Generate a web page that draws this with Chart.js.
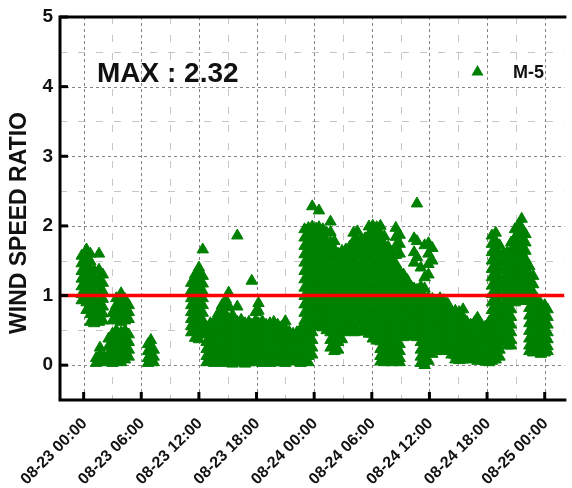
<!DOCTYPE html>
<html>
<head>
<meta charset="utf-8">
<script src="https://cdn.jsdelivr.net/npm/chart.js@4.4.1/dist/chart.umd.min.js"></script>
<style>
  html, body { margin: 0; padding: 0; background: #fff; }
  #wrap { width: 572px; height: 488px; }
</style>
</head>
<body>
<div id="wrap"><canvas id="ratio-chart" width="572" height="488"></canvas></div>
<script>
// Axis ticks (hours from 08-23 00:00)
const xTickHours = [0, 6, 12, 18, 24, 30, 36, 42, 48];
const xTickLabels = ['08-23 00:00', '08-23 06:00', '08-23 12:00', '08-23 18:00',
  '08-24 00:00', '08-24 06:00', '08-24 12:00', '08-24 18:00', '08-25 00:00'];
const yTicks = [0, 1, 2, 3, 4, 5];
const yMinorTicks = [0.5, 1.5, 2.5, 3.5, 4.5];
const xRange = [-2.46, 50.05];
const yRange = [-0.5, 5];

const refRatio = 1;
const maxRatio = 2.32;
const seriesName = 'M-5';

// [hour, ratios recorded around that hour]
const samples23Am = [
  [-0.2, [1.57, 1.46, 1.35, 1.24, 1.13, 1.02, 0.93]],
  [0.3, [1.66, 1.55, 1.44, 1.33, 1.22, 1.11, 1.0, 0.9, 0.79]],
  [0.7, [1.6, 1.49, 1.38, 1.27, 1.16, 1.05, 0.95, 0.84, 0.73, 0.62]],
  [1.1, [1.36, 1.25, 1.14, 1.03, 0.92, 0.81, 0.7, 0.6]],
  [1.3, [0.1, 0.03]],
  [1.6, [1.6, 1.37, 1.26, 1.15, 1.04, 0.93, 0.82, 0.72, 0.62]],
  [1.7, [0.25, 0.15, 0.06]],
  [2.0, [1.3, 1.18, 1.06, 0.95, 0.84, 0.74, 0.64]],
  [2.1, [0.12, 0.04]],
  [2.6, [0.38, 0.27, 0.16, 0.06]],
  [3.0, [0.75, 0.64, 0.45, 0.34, 0.23, 0.12, 0.03]],
  [3.4, [0.96, 0.86, 0.76, 0.66, 0.5, 0.39, 0.28, 0.17, 0.06]],
  [3.9, [1.03, 0.93, 0.83, 0.72, 0.62, 0.47, 0.36, 0.25, 0.14, 0.04]],
  [4.3, [0.95, 0.85, 0.75, 0.64, 0.5, 0.4, 0.29, 0.18, 0.08]],
  [4.7, [0.86, 0.76, 0.66, 0.44, 0.33, 0.22, 0.12]],
  [6.7, [0.3, 0.2, 0.1, 0.03]],
  [7.0, [0.36, 0.26, 0.16, 0.06]],
  [7.3, [0.22, 0.12, 0.04]]
];

const samples23Pm = [
  [11.2, [1.18, 1.07, 0.96, 0.86, 0.76, 0.66, 0.56, 0.47]],
  [11.6, [1.3, 1.19, 1.08, 0.98, 0.88, 0.78, 0.68, 0.58, 0.48, 0.39]],
  [12.0, [1.4, 1.29, 1.18, 1.07, 0.97, 0.87, 0.77, 0.67, 0.57, 0.46, 0.37]],
  [12.4, [1.66, 1.28, 1.17, 1.06, 0.96, 0.86, 0.75, 0.64, 0.54, 0.44]],
  [12.8, [0.55, 0.44, 0.33, 0.23, 0.13, 0.04]],
  [13.2, [0.6, 0.49, 0.38, 0.28, 0.17, 0.07]],
  [13.6, [0.62, 0.52, 0.41, 0.3, 0.2, 0.1, 0.03]],
  [14.0, [0.74, 0.63, 0.52, 0.42, 0.31, 0.21, 0.11, 0.04]],
  [14.4, [0.86, 0.75, 0.64, 0.54, 0.43, 0.33, 0.22, 0.12, 0.05]],
  [14.8, [0.94, 0.83, 0.72, 0.61, 0.5, 0.4, 0.29, 0.19, 0.09, 0.03]],
  [15.1, [1.04, 0.85, 0.66, 0.56, 0.45, 0.35, 0.24, 0.14, 0.05]],
  [15.5, [0.72, 0.61, 0.5, 0.4, 0.3, 0.2, 0.1, 0.02]],
  [16.0, [1.86, 0.84, 0.62, 0.52, 0.41, 0.31, 0.21, 0.11, 0.04]],
  [16.4, [0.65, 0.55, 0.44, 0.34, 0.23, 0.13, 0.05]],
  [16.8, [0.6, 0.5, 0.39, 0.29, 0.19, 0.09, 0.02]],
  [17.2, [0.62, 0.52, 0.42, 0.31, 0.21, 0.11, 0.04]],
  [17.5, [1.21, 0.58, 0.47, 0.36, 0.26, 0.16, 0.06]],
  [17.9, [0.76, 0.64, 0.53, 0.43, 0.32, 0.22, 0.12, 0.04]],
  [18.2, [0.89, 0.78, 0.6, 0.49, 0.38, 0.28, 0.18, 0.08]],
  [18.6, [0.63, 0.53, 0.42, 0.32, 0.21, 0.11, 0.03]],
  [19.0, [0.58, 0.48, 0.37, 0.27, 0.16, 0.06]],
  [19.4, [0.6, 0.5, 0.4, 0.29, 0.19, 0.09, 0.03]],
  [19.8, [0.62, 0.52, 0.41, 0.31, 0.2, 0.1, 0.04]],
  [20.2, [0.58, 0.47, 0.37, 0.26, 0.16, 0.06]],
  [20.6, [0.55, 0.45, 0.34, 0.24, 0.13, 0.04]],
  [21.0, [0.63, 0.52, 0.41, 0.31, 0.2, 0.1, 0.03]],
  [21.4, [0.48, 0.38, 0.27, 0.17, 0.07]],
  [21.8, [0.45, 0.35, 0.24, 0.14, 0.05]],
  [22.2, [0.47, 0.36, 0.26, 0.15, 0.06]],
  [22.6, [0.52, 0.41, 0.31, 0.2, 0.1, 0.03]],
  [23.0, [1.95, 1.83, 1.71, 1.59, 1.47, 1.35, 1.23, 1.11, 0.99, 0.87, 0.75, 0.64, 0.53, 0.42, 0.31, 0.2, 0.1]],
  [23.4, [1.97, 1.85, 1.73, 1.61, 1.49, 1.37, 1.25, 1.13, 1.01, 0.9, 0.78, 0.67, 0.56, 0.45, 0.34, 0.23, 0.13, 0.04]],
  [23.8, [2.28, 1.99, 1.87, 1.75, 1.63, 1.51, 1.39, 1.27, 1.15, 1.03, 0.91, 0.8, 0.69, 0.58, 0.47, 0.36, 0.25, 0.15]]
];

const samples24Am = [
  [24.2, [1.96, 1.84, 1.72, 1.6, 1.48, 1.36, 1.24, 1.12, 1.0, 0.88, 0.77, 0.66, 0.55]],
  [24.5, [2.22, 1.98, 1.86, 1.74, 1.62, 1.5, 1.38, 1.26, 1.14, 1.02, 0.9, 0.79, 0.68, 0.57]],
  [24.9, [1.95, 1.83, 1.71, 1.59, 1.47, 1.35, 1.23, 1.11, 0.99, 0.87, 0.76, 0.65, 0.54]],
  [25.3, [1.9, 1.78, 1.66, 1.54, 1.42, 1.3, 1.18, 1.06, 0.94, 0.82, 0.71, 0.6, 0.5]],
  [25.7, [2.06, 1.91, 1.76, 1.64, 1.52, 1.4, 1.28, 1.16, 1.04, 0.92, 0.8, 0.69, 0.58, 0.47, 0.36, 0.25]],
  [26.1, [1.78, 1.66, 1.54, 1.42, 1.3, 1.18, 1.06, 0.94, 0.82, 0.7, 0.59, 0.48, 0.37, 0.26, 0.2]],
  [26.5, [1.6, 1.48, 1.36, 1.24, 1.12, 1.0, 0.88, 0.77, 0.66, 0.55, 0.44, 0.33, 0.22]],
  [26.9, [1.64, 1.52, 1.4, 1.28, 1.16, 1.04, 0.92, 0.8, 0.69, 0.58, 0.47, 0.37]],
  [27.3, [1.66, 1.54, 1.42, 1.3, 1.18, 1.06, 0.94, 0.82, 0.7, 0.59, 0.48]],
  [27.7, [1.7, 1.58, 1.46, 1.34, 1.22, 1.1, 0.98, 0.86, 0.74, 0.62, 0.5]],
  [28.1, [1.9, 1.78, 1.66, 1.54, 1.42, 1.3, 1.18, 1.06, 0.94, 0.82, 0.7, 0.58, 0.47]],
  [28.5, [1.92, 1.8, 1.68, 1.56, 1.44, 1.32, 1.2, 1.08, 0.96, 0.84, 0.72, 0.6, 0.48]],
  [28.9, [1.8, 1.68, 1.56, 1.44, 1.32, 1.2, 1.08, 0.96, 0.84, 0.72, 0.6, 0.48]],
  [29.3, [1.82, 1.7, 1.58, 1.46, 1.34, 1.22, 1.1, 0.98, 0.86, 0.74, 0.62, 0.5]],
  [29.7, [1.99, 1.87, 1.75, 1.63, 1.51, 1.39, 1.27, 1.15, 1.03, 0.91, 0.79, 0.67, 0.55, 0.45]],
  [30.1, [2.0, 1.88, 1.76, 1.64, 1.52, 1.4, 1.28, 1.16, 1.04, 0.92, 0.8, 0.68, 0.56, 0.45, 0.38]],
  [30.5, [1.98, 1.86, 1.74, 1.62, 1.5, 1.38, 1.26, 1.14, 1.02, 0.9, 0.78, 0.66, 0.55, 0.44, 0.35]],
  [30.9, [2.0, 1.88, 1.76, 1.64, 1.52, 1.4, 1.28, 1.16, 1.04, 0.92, 0.8, 0.68, 0.56, 0.45, 0.34, 0.23, 0.13, 0.05]],
  [31.3, [1.85, 1.73, 1.61, 1.49, 1.37, 1.25, 1.13, 1.01, 0.89, 0.77, 0.65, 0.54, 0.43, 0.32, 0.21, 0.11, 0.04]],
  [31.7, [1.7, 1.58, 1.46, 1.34, 1.22, 1.1, 0.98, 0.86, 0.74, 0.62, 0.51, 0.4, 0.29, 0.18, 0.08]],
  [32.1, [1.62, 1.5, 1.38, 1.26, 1.14, 1.02, 0.9, 0.78, 0.66, 0.55, 0.44, 0.33, 0.22, 0.12, 0.04]],
  [32.5, [1.97, 1.84, 1.71, 1.58, 1.45, 1.33, 1.21, 1.09, 0.97, 0.85, 0.73, 0.62, 0.51, 0.4, 0.29, 0.18, 0.08]],
  [32.9, [1.87, 1.74, 1.6, 1.35, 1.23, 1.11, 0.99, 0.87, 0.75, 0.63, 0.52, 0.41, 0.3, 0.2, 0.1, 0.04]],
  [33.3, [1.3, 1.18, 1.06, 0.94, 0.82, 0.7, 0.59, 0.48, 0.4]],
  [33.7, [1.22, 1.1, 0.98, 0.86, 0.74, 0.63, 0.52, 0.41]],
  [34.1, [1.12, 1.0, 0.88, 0.76, 0.65, 0.54, 0.43]],
  [34.4, [1.82, 1.62, 1.47, 1.1, 0.98, 0.86, 0.75, 0.64, 0.53, 0.42]],
  [34.7, [2.32, 1.78, 1.55, 1.08, 0.96, 0.84, 0.72, 0.61, 0.5, 0.4]],
  [35.1, [1.4, 1.13, 1.02, 0.9, 0.78, 0.66, 0.55, 0.44, 0.33, 0.22, 0.12, 0.03]],
  [35.5, [1.72, 1.26, 1.1, 0.98, 0.86, 0.74, 0.62, 0.5, 0.39, 0.28, 0.17, 0.07, 0.0]],
  [35.9, [1.75, 1.6, 1.45, 1.3, 0.97, 0.86, 0.74, 0.62, 0.5, 0.39, 0.28, 0.17, 0.06]]
];

const samples24Pm = [
  [36.3, [1.68, 1.5, 0.95, 0.84, 0.72, 0.6, 0.48, 0.37, 0.26, 0.16]],
  [36.7, [0.92, 0.8, 0.69, 0.58, 0.47, 0.36, 0.25, 0.2]],
  [37.1, [0.96, 0.84, 0.73, 0.62, 0.51, 0.4, 0.3, 0.21]],
  [37.5, [0.93, 0.82, 0.71, 0.6, 0.49, 0.38, 0.28, 0.2]],
  [37.9, [0.88, 0.77, 0.66, 0.55, 0.44, 0.33, 0.23]],
  [38.3, [0.76, 0.65, 0.54, 0.43, 0.32, 0.22, 0.15]],
  [38.7, [0.78, 0.67, 0.56, 0.45, 0.34, 0.24, 0.14, 0.08]],
  [39.1, [0.76, 0.65, 0.54, 0.43, 0.32, 0.22, 0.12, 0.07]],
  [39.5, [0.8, 0.69, 0.58, 0.47, 0.36, 0.26, 0.16, 0.08]],
  [39.9, [0.62, 0.52, 0.41, 0.31, 0.2, 0.1]],
  [40.3, [0.58, 0.48, 0.37, 0.27, 0.17, 0.08]],
  [40.7, [0.62, 0.51, 0.41, 0.3, 0.2, 0.1]],
  [41.0, [0.68, 0.57, 0.46, 0.35, 0.25, 0.15, 0.06]],
  [41.4, [0.58, 0.47, 0.37, 0.26, 0.16, 0.07]],
  [41.8, [0.55, 0.45, 0.34, 0.24, 0.14, 0.05]],
  [42.2, [0.62, 0.52, 0.41, 0.31, 0.2, 0.1, 0.04]],
  [42.5, [1.86, 1.74, 1.62, 1.5, 1.38, 1.26, 1.14, 1.02, 0.9, 0.79, 0.68, 0.57, 0.46, 0.35, 0.24, 0.14, 0.06]],
  [42.9, [1.9, 1.78, 1.66, 1.54, 1.42, 1.3, 1.18, 1.06, 0.94, 0.83, 0.72, 0.61, 0.5, 0.39, 0.28, 0.17, 0.08]],
  [43.3, [1.72, 1.6, 1.48, 1.36, 1.24, 1.12, 1.0, 0.88, 0.77, 0.66, 0.55, 0.44, 0.33, 0.22, 0.12]],
  [43.7, [1.6, 1.48, 1.36, 1.24, 1.12, 1.0, 0.88, 0.76, 0.65, 0.54, 0.43, 0.32]],
  [44.1, [1.62, 1.5, 1.38, 1.26, 1.14, 1.02, 0.9, 0.78, 0.67, 0.56, 0.45, 0.34, 0.28]],
  [44.5, [1.76, 1.64, 1.52, 1.4, 1.28, 1.16, 1.04, 0.92, 0.8, 0.69, 0.58, 0.47, 0.36, 0.28]],
  [44.9, [1.95, 1.83, 1.71, 1.59, 1.47, 1.35, 1.23, 1.11, 0.99, 0.9]],
  [45.3, [2.02, 1.9, 1.78, 1.66, 1.54, 1.42, 1.3, 1.18, 1.06, 0.95]],
  [45.6, [2.1, 1.97, 1.85, 1.73, 1.61, 1.49, 1.37, 1.25, 1.13, 1.01, 0.92]],
  [46.0, [1.88, 1.76, 1.64, 1.52, 1.4, 1.28, 1.16, 1.04, 0.93]],
  [46.4, [1.42, 1.3, 1.18, 1.06, 0.94, 0.82, 0.71, 0.6, 0.49, 0.38, 0.28, 0.2]],
  [46.8, [1.28, 1.16, 1.04, 0.92, 0.8, 0.69, 0.58, 0.47, 0.36, 0.26, 0.18]],
  [47.2, [0.95, 0.84, 0.73, 0.62, 0.51, 0.4, 0.3, 0.2]],
  [47.6, [0.88, 0.77, 0.66, 0.55, 0.44, 0.33, 0.23, 0.16]],
  [48.0, [0.86, 0.75, 0.64, 0.53, 0.42, 0.32, 0.22, 0.18]],
  [48.3, [0.8, 0.69, 0.58, 0.47, 0.37, 0.27, 0.2]]
];

const FONT = '"Liberation Sans", Arial, Helvetica, sans-serif';
const GREEN = '#008000';

function toPoints(groups) {
  const pts = [];
  groups.forEach(([hour, ratios]) => {
    ratios.forEach(r => pts.push({ x: hour, y: r }));
  });
  return pts;
}

const ratioPoints = toPoints([...samples23Am, ...samples23Pm, ...samples24Am, ...samples24Pm]);

// grid, frame, ticks and labels drawn from the chart's own scales
const frameAndText = {
  id: 'frameAndText',
  beforeDatasetsDraw(chart) {
    const { ctx, chartArea: a, scales: { x, y } } = chart;
    ctx.save();
    ctx.lineWidth = 1;

    // minor grid (half steps)
    ctx.strokeStyle = '#c6c6c6';
    ctx.setLineDash([7, 11]);
    xTickHours.forEach(h => {
      const hm = h + 3;
      if (hm > xRange[1]) return;
      const px = Math.round(x.getPixelForValue(hm)) + 0.5;
      ctx.beginPath(); ctx.moveTo(px, a.top); ctx.lineTo(px, a.bottom); ctx.stroke();
    });
    yMinorTicks.forEach(v => {
      const py = Math.round(y.getPixelForValue(v)) + 0.5;
      ctx.beginPath(); ctx.moveTo(a.left, py); ctx.lineTo(a.right, py); ctx.stroke();
    });

    // major grid
    ctx.strokeStyle = '#858585';
    ctx.setLineDash([3, 3]);
    xTickHours.forEach(h => {
      const px = Math.round(x.getPixelForValue(h)) + 0.5;
      ctx.beginPath(); ctx.moveTo(px, a.top); ctx.lineTo(px, a.bottom); ctx.stroke();
    });
    yTicks.forEach(v => {
      if (v === yRange[1]) return;
      const py = Math.round(y.getPixelForValue(v)) + 0.5;
      ctx.beginPath(); ctx.moveTo(a.left, py); ctx.lineTo(a.right, py); ctx.stroke();
    });
    ctx.restore();
  },
  afterDatasetsDraw(chart) {
    const { ctx, chartArea: a, scales: { x, y } } = chart;
    ctx.save();

    // frame: left, top, bottom
    ctx.strokeStyle = '#000';
    ctx.lineWidth = 3;
    ctx.beginPath();
    ctx.moveTo(a.right + 2, a.top);
    ctx.lineTo(a.left, a.top);
    ctx.lineTo(a.left, a.bottom);
    ctx.lineTo(a.right + 2, a.bottom);
    ctx.stroke();

    // inward tick marks
    xTickHours.forEach(h => {
      const px = x.getPixelForValue(h);
      ctx.beginPath(); ctx.moveTo(px, a.bottom); ctx.lineTo(px, a.bottom - 8); ctx.stroke();
    });
    yTicks.forEach(v => {
      const py = y.getPixelForValue(v);
      ctx.beginPath(); ctx.moveTo(a.left, py); ctx.lineTo(a.left + 8, py); ctx.stroke();
    });

    // y tick labels
    ctx.fillStyle = '#111';
    ctx.font = 'bold 19px ' + FONT;
    ctx.textAlign = 'right';
    ctx.textBaseline = 'middle';
    yTicks.forEach(v => ctx.fillText(String(v), a.left - 7, y.getPixelForValue(v)));

    // x tick labels, rotated 45 degrees
    ctx.font = 'bold 16px ' + FONT;
    xTickHours.forEach((h, i) => {
      ctx.save();
      ctx.translate(x.getPixelForValue(h) + 1, a.bottom + 21);
      ctx.rotate(-Math.PI / 4);
      ctx.fillText(xTickLabels[i], 0, 0);
      ctx.restore();
    });

    // y axis title
    ctx.save();
    ctx.font = 'bold 23px ' + FONT;
    ctx.textAlign = 'center';
    ctx.textBaseline = 'alphabetic';
    ctx.translate(25.5, 223);
    ctx.rotate(-Math.PI / 2);
    ctx.fillText('WIND SPEED RATIO', 0, 0);
    ctx.restore();

    // max annotation
    ctx.font = 'bold 28px ' + FONT;
    ctx.textAlign = 'left';
    ctx.textBaseline = 'alphabetic';
    ctx.fillText('MAX : ' + maxRatio.toFixed(2), 97, 82);

    // legend
    const lx = 477.5, ly = 72, r = 7;
    ctx.fillStyle = GREEN;
    ctx.beginPath();
    ctx.moveTo(lx, ly - r);
    ctx.lineTo(lx + r * 0.866, ly + r / 2);
    ctx.lineTo(lx - r * 0.866, ly + r / 2);
    ctx.closePath();
    ctx.fill();
    ctx.fillStyle = '#111';
    ctx.font = 'bold 18px ' + FONT;
    ctx.fillText(seriesName, 513, 78);

    ctx.restore();
  }
};

new Chart(document.getElementById('ratio-chart'), {
  type: 'scatter',
  data: {
    datasets: [
      {
        type: 'line',
        label: 'reference',
        data: [{ x: xRange[0], y: refRatio }, { x: xRange[1], y: refRatio }],
        borderColor: '#ff0000',
        borderWidth: 3.5,
        pointRadius: 0,
        fill: false
      },
      {
        label: seriesName,
        data: ratioPoints,
        pointStyle: 'triangle',
        pointRadius: 6.6,
        pointBorderWidth: 1,
        backgroundColor: GREEN,
        borderColor: GREEN
      }
    ]
  },
  options: {
    responsive: false,
    animation: false,
    devicePixelRatio: 1,
    layout: { padding: { left: 60, top: 17, right: 0, bottom: 88 } },
    plugins: { legend: { display: false }, tooltip: { enabled: false } },
    scales: {
      x: { type: 'linear', min: xRange[0], max: xRange[1], display: false },
      y: { type: 'linear', min: yRange[0], max: yRange[1], display: false }
    }
  },
  plugins: [frameAndText]
});
</script>
</body>
</html>
